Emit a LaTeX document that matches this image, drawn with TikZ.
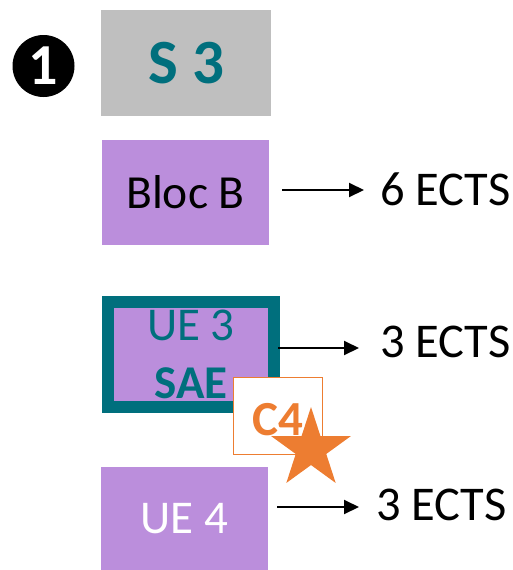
\documentclass[tikz,border=0pt]{standalone}
\usepackage{fontspec}
\setmainfont{Carlito}
\usetikzlibrary{arrows.meta,shapes.geometric}
\definecolor{boxgray}{RGB}{191,191,191}
\definecolor{lilac}{RGB}{187,142,220}
\definecolor{teal}{RGB}{0,111,125}
\definecolor{orng}{RGB}{237,125,49}
\tikzset{
  box/.style={draw=none, fill=lilac, minimum width=167pt, minimum height=105pt, inner sep=0pt, font=\fontsize{47.5}{57}\selectfont},
  ects/.style={anchor=base west, inner sep=0pt, font=\fontsize{48.5}{58}\selectfont},
  arr/.style={line width=2pt, -{Triangle[length=15pt,width=14pt]}},
}
\begin{document}
\begin{tikzpicture}[x=1pt,y=-1pt]
\useasboundingbox (0,0) rectangle (513,570);
% number badge
\node[circle, fill=black, minimum size=62pt, inner sep=0pt, text=white, font=\bfseries\fontsize{58}{62}\selectfont] (num) at (43.5,66) {1};
% S 3
\node[fill=boxgray, minimum width=170pt, minimum height=106pt, inner sep=0pt, text=teal, font=\bfseries\fontsize{63}{72}\selectfont] (s3) at (186,63) {S 3};
% Bloc B
\node[box] (blocb) at (185.5,192.5) {Bloc B};
% UE 3
\node[box, draw=teal, line width=12pt, minimum width=166pt, minimum height=105pt, text=teal, align=center, font=\fontsize{47}{58}\selectfont] (ue3) at (191,354.5) {UE 3\\\textbf{SAE}};
% UE 4
\node[box, text=white, font=\fontsize{47}{57}\selectfont] (ue4) at (184.5,519) {UE 4};
% C4 box
\node[draw=orng, fill=white, line width=1.5pt, minimum width=89pt, minimum height=77pt, inner sep=0pt] (c4) at (278,416) {};
\node[text=orng, inner sep=0pt, font=\bfseries\fontsize{49}{56}\selectfont] (c4t) at (277.5,420) {C4};
% star
\node[star, star points=5, star point ratio=2.618, fill=orng, minimum size=84pt, inner sep=0pt] (star) at (311,449) {};
% ECTS texts
\node[ects] (t1) at (380,205) {6 ECTS};
\node[ects] (t2) at (380,357) {3 ECTS};
\node[ects] (t3) at (376,520) {3 ECTS};
% arrows
\coordinate (s1) at (282,190); \coordinate (e1) at (364,190);
\coordinate (s2) at (278,348); \coordinate (e2) at (359,348);
\coordinate (s3a) at (277,507); \coordinate (e3) at (359,507);
\draw[arr] (s1) -- (e1);
\draw[arr] (s2) -- (e2);
\draw[arr] (s3a) -- (e3);
\end{tikzpicture}
\end{document}
